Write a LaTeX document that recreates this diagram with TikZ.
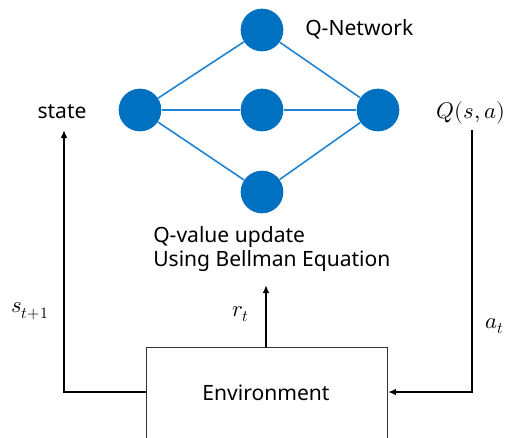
\documentclass[tikz,border=0pt]{standalone}
\usepackage{fontspec}
\setmainfont{Noto Sans}
\usepackage{unicode-math}
\setmathfont{Latin Modern Math}
\usetikzlibrary{arrows.meta}
\definecolor{netblue}{HTML}{0070C0}
\definecolor{edgeblue}{HTML}{2283D2}
\tikzset{
  neuron/.style={circle, fill=netblue, draw=none, minimum size=32pt, inner sep=0pt},
  link/.style={draw=edgeblue, line width=1.2pt},
  flow/.style={draw=black, line width=1.6pt, -{Latex[length=6pt,width=5pt]}},
  lbl/.style={inner sep=0pt, font=\fontsize{15.8}{18.5}\selectfont},
  mlbl/.style={inner sep=0pt, font=\fontsize{17}{19}\selectfont},
  envbox/.style={draw=black!80, line width=0.8pt, fill=white, inner sep=0pt}
}
\begin{document}
\begin{tikzpicture}[x=0.75pt, y=-0.75pt]
\useasboundingbox (0,0) rectangle (514,437);
\clip (0,0) rectangle (514,437);

% Q-network neurons
\node[neuron] (in)  at (140,110) {};
\node[neuron] (h1)  at (262,30) {};
\node[neuron] (h2)  at (262,110) {};
\node[neuron] (h3)  at (262,192) {};
\node[neuron] (out) at (378,110) {};
\foreach \h in {h1,h2,h3} {
  \draw[link] (in) -- (\h);
  \draw[link] (\h) -- (out);
}

\node[lbl, anchor=west] (qnet) at (305,29) {Q-Network};
\node[lbl] (state) at (62,112) {state};
\node[mlbl] (qsa) at (471,113) {$Q(s,a)$};

% environment box (runs past the lower edge)
\node[envbox, minimum width=180.75pt, minimum height=75pt, anchor=north west] (env) at (146,347) {};
\node[lbl] (envtxt) at (266,393) {Environment};

% update text
\node[lbl, anchor=west, align=left] (upd) at (153,249) {Q-value update\\Using Bellman Equation};

% connectors
\coordinate (lcorner) at (64,392);
\coordinate (rcorner) at (472,392);
\coordinate (sttail) at (64,130);
\coordinate (qtail) at (472,130);
\coordinate (rtip) at (266,285);
\draw[flow] (lcorner -| env.west) -- (lcorner) -- (sttail);
\draw[flow] (qtail) -- (rcorner) -- (rcorner -| env.east);
\draw[flow] (rtip |- env.north) -- (rtip);

\node[mlbl] (st1) at (30,311) {$s_{t+1}$};
\node[mlbl] (rt) at (241,314) {$r_{t}$};
\node[mlbl] (at) at (495,326) {$a_{t}$};
\end{tikzpicture}
\end{document}
